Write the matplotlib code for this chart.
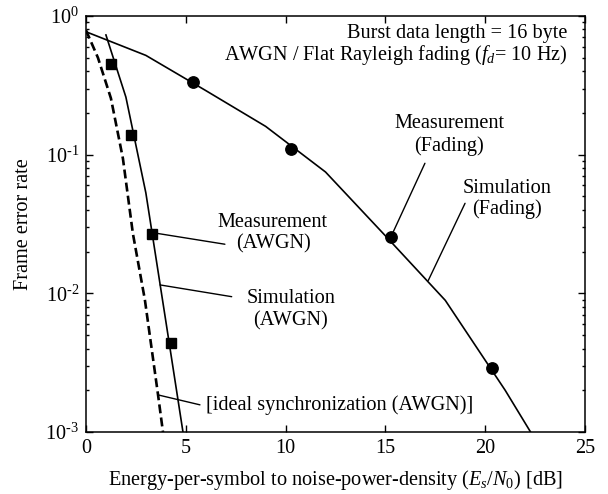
import matplotlib
matplotlib.use("Agg")
import matplotlib.pyplot as plt
from matplotlib.ticker import LogLocator, FixedLocator, FuncFormatter, NullFormatter

plt.rcParams['font.family'] = ['Liberation Serif', 'DejaVu Serif']
plt.rcParams['mathtext.fontset'] = 'custom'
plt.rcParams['mathtext.rm'] = 'Liberation Serif'
plt.rcParams['mathtext.it'] = 'Liberation Serif:italic'
plt.rcParams['font.size'] = 14.6

# ---- data ----
ideal_x = [0, 0.6, 1.25, 1.85, 2.35, 2.95, 3.6, 4.0]
ideal_y = [0.79, 0.50, 0.255, 0.094, 0.027, 0.009, 0.0019, 0.0007]

awgn_sim_x = [1, 2, 3, 4, 5]
awgn_sim_y = [0.73, 0.26, 0.053, 0.0063, 0.00074]

awgn_meas_x = [1.25, 2.24, 3.29, 4.26]
awgn_meas_y = [0.449, 0.139, 0.0267, 0.00441]

fad_sim_x = [0, 3, 6, 9, 12, 15, 18, 21, 24]
fad_sim_y = [0.77, 0.52, 0.29, 0.16, 0.075, 0.026, 0.0089, 0.0020, 0.00039]

fad_meas_x = [5.35, 10.27, 15.28, 20.33]
fad_meas_y = [0.334, 0.11, 0.0254, 0.00288]

x_ticks = [0, 5, 10, 15, 20, 25]
y_ticks = [1e-3, 1e-2, 1e-1, 1e0]
y_tick_labels = [r'$10^{\text{-}3}$', r'$10^{\text{-}2}$', r'$10^{\text{-}1}$', r'$10^{0}$']

fig = plt.figure(figsize=(6.08, 4.94), dpi=100)
ax = fig.add_axes([0.1414, 0.1255, 0.8208, 0.8421])

lw = 1.2
ax.plot(ideal_x, ideal_y, color='black', lw=1.9, ls=(0, (3.4, 1.6)))
ax.plot(awgn_sim_x, awgn_sim_y, color='black', lw=lw)
ax.plot(fad_sim_x, fad_sim_y, color='black', lw=lw)
ax.plot(awgn_meas_x, awgn_meas_y, ls='none', marker='s', ms=7.8, color='black')
ax.plot(fad_meas_x, fad_meas_y, ls='none', marker='o', ms=8.2, color='black')

ax.set_xlim(0, 25)
ax.set_yscale('log')
ax.set_ylim(1e-3, 1)
ax.xaxis.set_major_locator(FixedLocator(x_ticks))
ax.yaxis.set_major_locator(FixedLocator(y_ticks))
ax.yaxis.set_major_formatter(FuncFormatter(lambda v, p: y_tick_labels[y_ticks.index(min(y_ticks, key=lambda t: abs(t - v)))]))
ax.yaxis.set_minor_locator(LogLocator(base=10, subs=range(2, 10)))
ax.yaxis.set_minor_formatter(NullFormatter())

for s in ax.spines.values():
    s.set_linewidth(1.1)
ax.tick_params(which='both', direction='in', top=True, right=True, width=1.0)
ax.tick_params(which='major', length=5, labelsize=14.6, pad=5)
ax.tick_params(which='minor', length=2.5)

ax.set_xlabel(r'Energy-per-symbol to noise-power-density ($E_s$/$N_0$) [dB]', fontsize=14.6, labelpad=7)
ax.set_ylabel('Frame error rate', fontsize=14.6, labelpad=9)

ls_kw = dict(arrowprops=dict(arrowstyle='-', color='black', lw=1.0, shrinkA=0, shrinkB=0))

# annotations
ax.annotate('', xy=(3.54, 0.0271), xytext=(6.96, 0.0226), **ls_kw)
ax.text(9.37, 0.0272, 'Measurement\n(AWGN)', ha='center', va='center', linespacing=1.2)

ax.annotate('', xy=(3.71, 0.0115), xytext=(7.30, 0.00946), **ls_kw)
ax.text(10.27, 0.0076, 'Simulation\n(AWGN)', ha='center', va='center', linespacing=1.2)

ax.annotate('', xy=(3.62, 0.00185), xytext=(5.71, 0.00157), **ls_kw)
ax.text(6.0, 0.00157, '[ideal synchronization (AWGN)]', ha='left', va='center')

ax.annotate('', xy=(15.40, 0.0279), xytext=(16.98, 0.0867), **ls_kw)
ax.text(18.19, 0.138, 'Measurement\n(Fading)', ha='center', va='center', linespacing=1.2)

ax.annotate('', xy=(17.15, 0.0124), xytext=(18.99, 0.0446), **ls_kw)
ax.text(21.09, 0.048, 'Simulation\n(Fading)', ha='center', va='center', linespacing=1.05)

ax.text(24.1, 10 ** (-(33 - 16) / 138.7), 'Burst data length = 16 byte', ha='right', va='center')
ax.text(24.1, 10 ** (-(55 - 16) / 138.7), r'AWGN / Flat Rayleigh fading ($f_d$= 10 Hz)', ha='right', va='center')

fig.savefig('out.png', dpi=100)
